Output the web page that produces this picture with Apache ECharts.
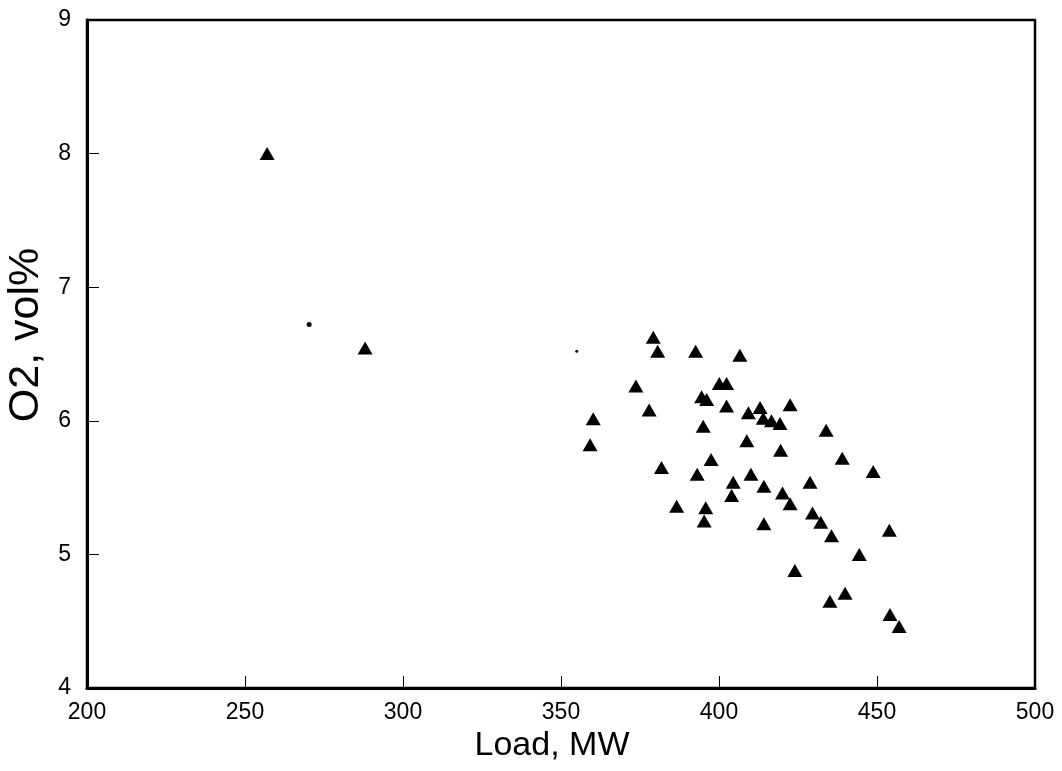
<!DOCTYPE html>
<html>
<head>
<meta charset="utf-8">
<script src="https://cdn.jsdelivr.net/npm/echarts@6/dist/echarts.min.js"></script>
<style>html,body{margin:0;padding:0;background:#fff;}#chart{width:1062px;height:771px;}</style>
</head>
<body>
<div id="chart"></div>
<script>
// Triangle markers: Load (MW), O2 (vol%)
const loadTri = [257, 288, 379.2, 380.6, 392.6, 406.6, 373.7, 400.1, 402.4, 394.5, 396.1, 402.4, 377.9, 360.2,
  409.3, 395, 359.2, 408.8, 397.5, 381.8, 393.1, 410.1, 404.5, 404, 386.6, 395.8, 395.3,
  413, 422.5, 414, 416.6, 419.3, 433.9, 419.5, 439, 448.8, 414.2, 428.8, 420.1, 422.5, 429.6,
  432.2, 435.6, 414.2, 453.9, 444.4, 424, 439.9, 435.1, 454.1, 457];
const o2Tri = [8.0, 6.545, 6.625, 6.52, 6.52, 6.49, 6.26, 6.28, 6.28, 6.18, 6.16, 6.11, 6.08, 6.015,
  6.06, 5.96, 5.82, 5.85, 5.71, 5.65, 5.60, 5.60, 5.54, 5.44, 5.36, 5.35, 5.25,
  6.10, 6.12, 6.02, 6.0, 5.98, 5.93, 5.78, 5.72, 5.62, 5.51, 5.54, 5.46, 5.38, 5.31,
  5.24, 5.14, 5.23, 5.18, 5.0, 4.88, 4.71, 4.65, 4.55, 4.46];
// Small dot markers
const loadDot = [270.3, 355];
const o2Dot = [6.72, 6.52];
const dotSizes = [5, 3];

const xTicks = [200, 250, 300, 350, 400, 450, 500];
const yTicks = [4, 5, 6, 7, 8, 9];

const triData = loadTri.map((x, i) => [x, o2Tri[i]]);
const dotData = loadDot.map((x, i) => ({ value: [x, o2Dot[i]], symbolSize: dotSizes[i] }));

const chart = echarts.init(document.getElementById('chart'));
const font = 'Liberation Sans, Arial, sans-serif';
chart.setOption({
  animation: false,
  backgroundColor: '#fff',
  grid: { left: 87, top: 20, right: 27, bottom: 83, containLabel: false, outerBoundsMode: 'none', show: true, borderColor: '#000', borderWidth: 2.5, backgroundColor: 'transparent' },
  xAxis: {
    type: 'value', min: xTicks[0], max: xTicks[xTicks.length - 1], interval: 50,
    name: 'Load, MW', nameLocation: 'middle', nameGap: 23,
    nameTextStyle: { color: '#000', fontSize: 34, fontFamily: font, verticalAlign: 'top', padding: [0, 18, 0, 0] },
    axisLine: { show: true, lineStyle: { color: '#000', width: 3 } },
    axisTick: { show: true, inside: true, length: 12, lineStyle: { color: '#000', width: 1 } },
    axisLabel: { color: '#000', fontSize: 23, fontFamily: font, margin: 13 },
    splitLine: { show: false }
  },
  yAxis: {
    type: 'value', min: yTicks[0], max: yTicks[yTicks.length - 1], interval: 1,
    name: 'O2, vol%', nameLocation: 'middle', nameGap: 36, nameRotate: 90,
    nameTextStyle: { color: '#000', fontSize: 43, fontFamily: font, padding: [0, 0, 0, 38] },
    axisLine: { show: true, lineStyle: { color: '#000', width: 3 } },
    axisTick: { show: true, inside: true, length: 12, lineStyle: { color: '#000', width: 1 } },
    axisLabel: { color: '#000', fontSize: 23, fontFamily: font, margin: 16 },
    splitLine: { show: false }
  },
  series: [
    {
      type: 'scatter', data: triData, symbol: 'triangle', symbolSize: [15, 13],
      itemStyle: { color: '#000', opacity: 1 }
    },
    {
      type: 'scatter', data: dotData, symbol: 'circle',
      itemStyle: { color: '#000', opacity: 1 }
    }
  ]
});
</script>
</body>
</html>
